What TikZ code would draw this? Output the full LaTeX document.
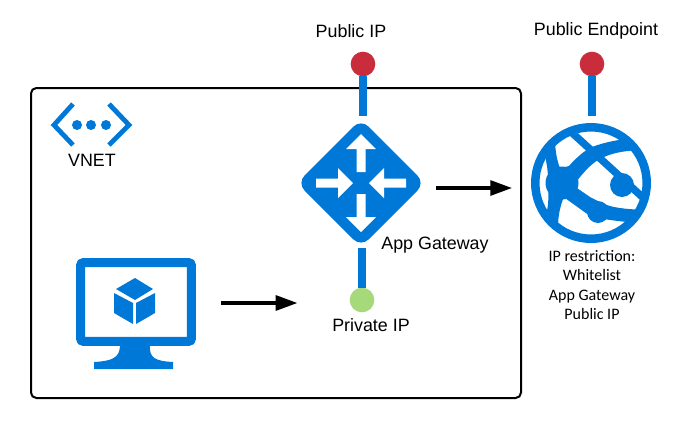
\documentclass[tikz,border=0pt]{standalone}
\usepackage{fontspec}
\setmainfont{Liberation Sans}
\newfontfamily\notefont{Carlito}
\usetikzlibrary{arrows.meta,positioning,calc,shapes.geometric}
\definecolor{azureblue}{HTML}{0078D7}
\definecolor{ipred}{HTML}{C92C3B}
\definecolor{ipgreen}{HTML}{A5D97A}
\tikzset{
  ipdot/.style={circle, inner sep=0pt, outer sep=0pt, minimum size=18.5pt},
  stalk/.style={azureblue, line width=6pt},
  flow/.style={-{Triangle[length=16.5pt,width=11pt]}, line width=3pt},
  iplabel/.style={inner sep=0pt, font=\fontsize{13.4}{16}\selectfont},
}

\begin{document}
\begin{tikzpicture}[x=0.75pt, y=-0.75pt]
  \useasboundingbox (0,0) rectangle (683,422);
  % vnet box
  \node[draw, line width=1.5pt, rounded corners=4pt, inner sep=0pt, outer sep=0pt, minimum width=367.5pt, minimum height=232.5pt] (vnet) at (276,243) {};
  % vnet icon
  \draw[azureblue, line width=3.6pt] (73,104) -- (54,125) -- (73,145);
  \draw[azureblue, line width=3.6pt] (109,104) -- (129,125) -- (109,145);
  \foreach \dotx in {77,91,106} \fill[azureblue] (\dotx,125) circle (5);
  \node[iplabel] (vnetlabel) at (92,160) {VNET};

  % gateway
  \node[diamond, fill=azureblue, rounded corners=8pt, aspect=1, inner sep=0pt, outer sep=0pt, minimum width=96pt, minimum height=96pt] (gateway) at (361,183) {};
  \foreach \ang in {0,180} {
    \fill[white, shift={(361,183)}, rotate=\ang] (0,-49) -- (15,-34) -- (4.5,-34) -- (4.5,-11) -- (-4.5,-11) -- (-4.5,-34) -- (-15,-34) -- cycle;
    \fill[white, shift={(361,183)}, rotate=\ang] (-8,0) -- (-23,-15) -- (-23,-4.5) -- (-45,-4.5) -- (-45,4.5) -- (-23,4.5) -- (-23,15) -- cycle;
  }
  \node[iplabel] (gwlabel) at (435,245) {App Gateway};

  % ip dots
  \node[ipdot, fill=ipred] (pubip) at (363,64) {};
  \node[ipdot, fill=ipgreen] (privip) at (362,300) {};
  \node[ipdot, fill=ipred] (pubend) at (592,64) {};
  \node[iplabel] (pubiplabel) at (351,31) {Public IP};
  \node[iplabel] (privlabel) at (371,325) {Private IP};
  \node[iplabel] (pubendlabel) at (596,31) {Public Endpoint};

  % globe
  \node[circle, draw=azureblue, line width=6.4pt, inner sep=0pt, outer sep=0pt, minimum size=83.6pt] (globe) at (591,183) {};
  \begin{scope}
    \clip (591,183) circle (57);
    \fill[azureblue] (562,183) circle (16.5);
    \fill[azureblue] (622,185) circle (12);
    \fill[azureblue] (598,212) circle (11);
    \draw[azureblue, line width=5.6pt] (569,130) -- (650,204);
    % bands
    \fill[azureblue] (553,170) -- (569,166) .. controls (576,158) and (585,150) .. (592,147) .. controls (605,142) and (620,139) .. (645,137) -- (648,150) .. controls (625,150) and (610,153) .. (598,160) .. controls (590,165) and (584,172) .. (576,182) -- cycle;
    \fill[azureblue] (574,186) -- (590,197) -- (602,203) .. controls (612,208) and (625,209) .. (645,210) -- (640,223) .. controls (625,222) and (605,220) .. (590,216) -- (565,198) -- cycle;
    \fill[azureblue] (543,148) .. controls (546,160) and (548,168) .. (548,180) -- (562,172) .. controls (558,165) and (556,156) .. (555,143) -- cycle;
    \fill[azureblue] (548,188) .. controls (549,200) and (548,208) .. (545,220) -- (558,228) .. controls (558,216) and (560,206) .. (565,194) -- cycle;
  \end{scope}
  \node[align=center, inner sep=0pt, font=\notefont\fontsize{12}{14.6}\selectfont] (note) at (592,285) {IP restriction:\\Whitelist\\App Gateway\\Public IP};

  % vm monitor
  \node[draw=azureblue, line width=6.8pt, rounded corners=2pt, inner sep=0pt, outer sep=0pt, minimum width=83pt, minimum height=59pt] (vm) at (136,302) {};
  \fill[azureblue] (120,345) .. controls (120,358) and (112,361) .. (94,362) -- (94,369) -- (173,369) -- (173,362) .. controls (155,361) and (149,358) .. (150,345) -- cycle;
  \fill[azureblue] (135,278) -- (153,289) -- (135,300) -- (116,289) -- cycle;
  \fill[azureblue] (114,293) -- (133,303) -- (133,324) -- (114,313) -- cycle;
  \fill[azureblue] (136,303) -- (155,293) -- (155,313) -- (136,324) -- cycle;

  % connectors
  \draw[stalk, shorten >=2.25pt] (pubip) -- (gateway.north -| pubip);
  \draw[stalk, shorten >=8.25pt] (pubend) -- (globe.north -| pubend);
  \draw[stalk, shorten <=0.75pt] (gateway.south -| privip) -- (privip);
  \draw[flow, shorten <=8.25pt, shorten >=17.25pt] ([yshift=-3.75pt]gateway.east) -- ([yshift=-3.75pt]globe.west);
  \draw[flow, shorten <=22.5pt, shorten >=39pt] (vm.east |- 0,303) -- (privip.west |- 0,303);
\end{tikzpicture}
\end{document}
